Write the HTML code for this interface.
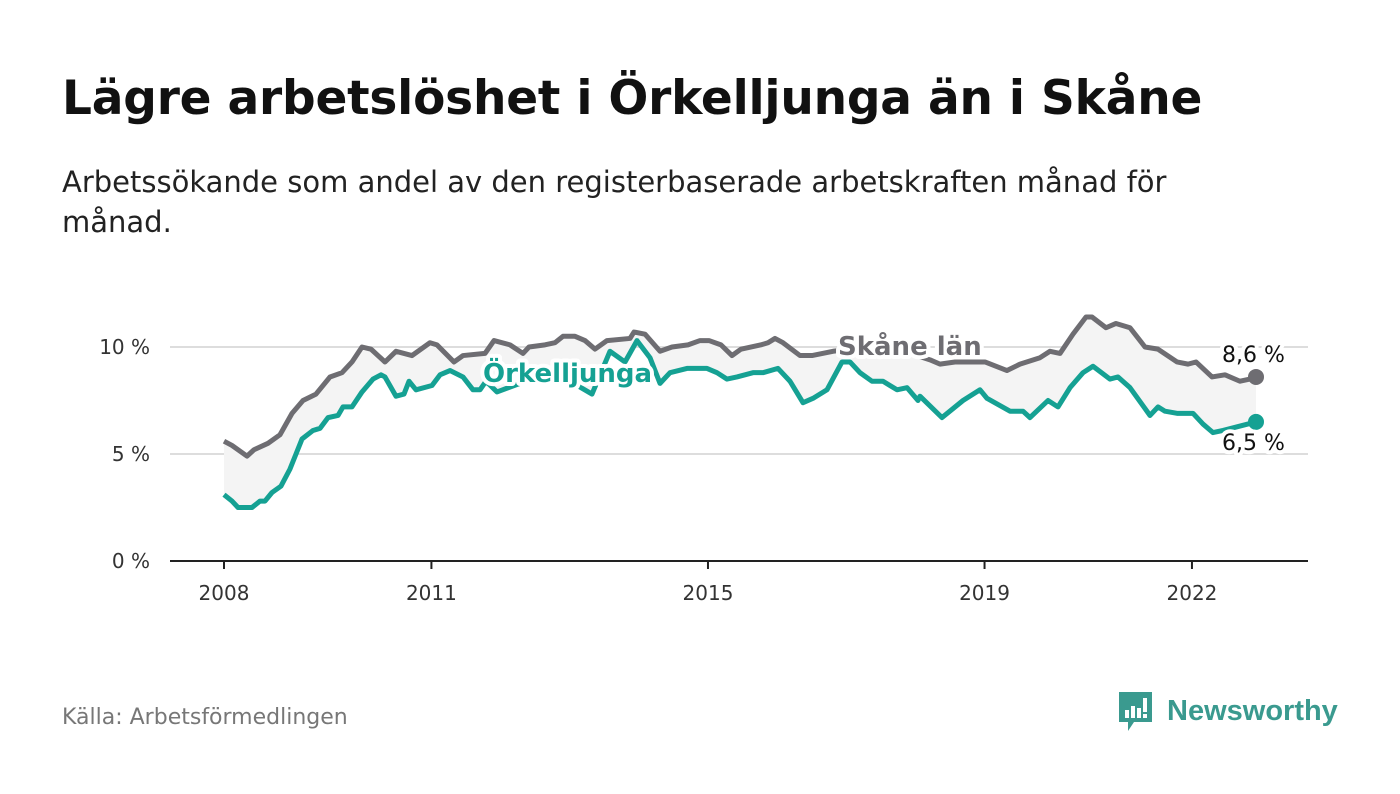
<!DOCTYPE html>
<html><head><meta charset="utf-8">
<style>
body{margin:0;width:1400px;height:794px;background:#fff;font-family:"DejaVu Sans","Liberation Sans",sans-serif;overflow:hidden;position:relative}
.t{position:absolute;left:62px;top:71px;font-size:47px;font-weight:bold;color:#111;margin:0;letter-spacing:-0.2px}
.s{position:absolute;left:62px;top:162px;font-size:29px;line-height:40px;color:#222;width:1200px}
.src{position:absolute;left:62px;top:705px;font-size:22px;color:#777}
</style></head><body>
<h1 class="t">Lägre arbetslöshet i Örkelljunga än i Skåne</h1>
<div class="s">Arbetssökande som andel av den registerbaserade arbetskraften månad för månad.</div>
<svg id="c" width="1400" height="794" style="position:absolute;left:0;top:0;font-family:'DejaVu Sans',sans-serif"></svg>
<div class="src">Källa: Arbetsförmedlingen</div>
<svg width="230" height="50" style="position:absolute;left:1116px;top:690px">
<path d="M3 2h33v30h-18l-6 9v-9h-9z" fill="#3a9a8f"/>
<rect x="9" y="20" width="4" height="8" fill="#fff"/><rect x="15" y="16" width="4" height="12" fill="#fff"/><rect x="21" y="18" width="4" height="10" fill="#fff"/><rect x="27" y="8" width="4" height="14" fill="#fff"/><rect x="27" y="24" width="4" height="4" fill="#fff"/>
<text x="51" y="30" font-size="29" font-weight="bold" fill="#3a9a8f" font-family="Liberation Sans, sans-serif">Newsworthy</text>
</svg>
<script>
const yTicks=[0,5,10];
const xTicks=[2008,2011,2015,2019,2022];
const skaneX=[224,232,247,254,268,280,292,303,316,330,342,352,362,371,385,396,412,430,437,454,463,485,494,510,523,529,545,555,563,575,585,595,607,630,634,645,660,672,688,700,709,721,732,741,761,768,775,783,800,812,833,850,880,910,930,940,955,975,985,1007,1020,1040,1050,1060,1073,1086,1092,1106,1116,1130,1145,1158,1177,1188,1196,1212,1225,1240,1250,1256];
const skaneV=[5.6,5.4,4.9,5.2,5.5,5.9,6.9,7.5,7.8,8.6,8.8,9.3,10.0,9.9,9.3,9.8,9.6,10.2,10.1,9.3,9.6,9.7,10.3,10.1,9.7,10.0,10.1,10.2,10.5,10.5,10.3,9.9,10.3,10.4,10.7,10.6,9.8,10.0,10.1,10.3,10.3,10.1,9.6,9.9,10.1,10.2,10.4,10.2,9.6,9.6,9.8,9.9,10.0,9.7,9.4,9.2,9.3,9.3,9.3,8.9,9.2,9.5,9.8,9.7,10.6,11.4,11.4,10.9,11.1,10.9,10.0,9.9,9.3,9.2,9.3,8.6,8.7,8.4,8.5,8.6];
const orkX=[224,232,238,252,260,265,272,281,290,296,302,313,320,328,338,343,352,362,373,381,385,396,404,409,416,432,440,450,463,473,480,486,497,520,545,570,592,610,625,637,650,660,670,687,707,717,727,737,753,763,778,790,803,813,827,842,850,860,872,883,897,907,918,920,942,963,980,987,1010,1023,1030,1048,1058,1070,1083,1093,1110,1118,1130,1150,1158,1165,1177,1193,1203,1213,1223,1256];
const orkV=[3.1,2.8,2.5,2.5,2.8,2.8,3.2,3.5,4.3,5.0,5.7,6.1,6.2,6.7,6.8,7.2,7.2,7.9,8.5,8.7,8.6,7.7,7.8,8.4,8.0,8.2,8.7,8.9,8.6,8.0,8.0,8.4,7.9,8.3,8.6,8.4,7.8,9.8,9.3,10.3,9.5,8.3,8.8,9.0,9.0,8.8,8.5,8.6,8.8,8.8,9.0,8.4,7.4,7.6,8.0,9.3,9.3,8.8,8.4,8.4,8.0,8.1,7.5,7.7,6.7,7.5,8.0,7.6,7.0,7.0,6.7,7.5,7.2,8.1,8.8,9.1,8.5,8.6,8.1,6.8,7.2,7.0,6.9,6.9,6.4,6.0,6.1,6.5];
const NS="http://www.w3.org/2000/svg";
const svg=document.getElementById('c');
const y=v=>561-v*21.4;
const xYear=yr=>224+(yr-2008)*69.14;
function el(t,a,p){const e=document.createElementNS(NS,t);for(const k in a)e.setAttribute(k,a[k]);(p||svg).appendChild(e);return e;}
yTicks.forEach(v=>{
 if(v>0){const g=el('line',{x1:170,x2:1308,y1:y(v),y2:y(v),stroke:'#ddd','stroke-width':2});
 
 }
 const t=el('text',{x:150,y:y(v)+7,'text-anchor':'end','font-size':20,fill:'#333'});t.textContent=v+' %';
 
 
});
const band=el('polygon',{points:skaneX.map((x,i)=>x+','+y(skaneV[i])).concat(orkX.map((x,i)=>x+','+y(orkV[i])).reverse()).join(' '),fill:'#f4f4f4'});


const ax=el('line',{x1:170,x2:1308,y1:561,y2:561,stroke:'#222','stroke-width':2});


xTicks.forEach(yr=>{
 const X=xYear(yr);
 el('line',{x1:X,x2:X,y1:561,y2:569,stroke:'#222','stroke-width':2});
 const t=el('text',{x:X,y:600,'text-anchor':'middle','font-size':20,fill:'#333'});t.textContent=yr;
 
 
});
function line(xs,vs,c,n){const p=el('polyline',{points:xs.map((x,i)=>x+','+y(vs[i])).join(' '),fill:'none',stroke:c,'stroke-width':5,'stroke-linejoin':'round'});
 
 
 const d=el('circle',{cx:xs[xs.length-1],cy:y(vs[vs.length-1]),r:8,fill:c});
 
 }
line(skaneX,skaneV,'#6e6d72','skane-line');
line(orkX,orkV,'#15a193','orkelljunga-line');
function lab(x,yy,txt,c,w,s,n){const t=el('text',{x:x,y:yy,'font-size':s,'font-weight':w,fill:c,stroke:'#fff','stroke-width':8,'paint-order':'stroke','stroke-linejoin':'round'});t.textContent=txt;
 
 }
lab(483,382,'Örkelljunga','#15a193','bold',26,'orkelljunga-label');
lab(838,355,'Skåne län','#6e6d72','bold',26,'skane-label');
lab(1222,362,'8,6 %','#111','normal',22,'skane-end-value');
lab(1222,450,'6,5 %','#111','normal',22,'orkelljunga-end-value');
</script>
</body></html>
